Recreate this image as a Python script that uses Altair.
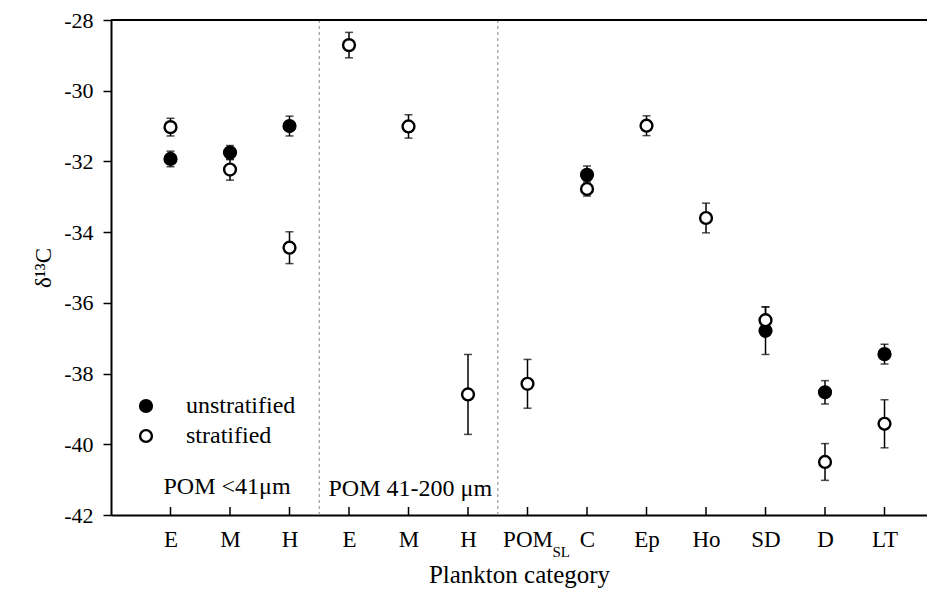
import json
import altair as alt
import pandas as pd

# ---- data ----
labels = ["E", "M", "H", "E", "M", "H", "POM", "C", "Ep", "Ho", "SD", "D", "LT"]

unstrat_pos = [0, 1, 2, 7, 10, 11, 12]
unstrat_val = [-31.93, -31.75, -31.00, -32.38, -36.79, -38.53, -37.45]
unstrat_err = [0.22, 0.20, 0.28, 0.25, 0.67, 0.33, 0.28]

strat_pos = [0, 1, 2, 3, 4, 5, 6, 7, 8, 9, 10, 11, 12]
strat_val = [-31.03, -32.23, -34.44, -28.71, -31.01, -38.59, -38.29,
             -32.78, -30.99, -33.60, -36.49, -40.50, -39.42]
strat_err = [0.25, 0.30, 0.45, 0.36, 0.33, 1.13, 0.69,
             0.20, 0.28, 0.42, 0.38, 0.52, 0.68]

y_ticks = [-42, -40, -38, -36, -34, -32, -30, -28]
dividers = [2.5, 5.5]
section_text = ["POM <41\u03bcm", "POM 41-200 \u03bcm"]
section_x = [0.95, 4.03]
section_y = [-41.42, -41.45]

# ---- tables ----
rows = []
for p, v, e in zip(unstrat_pos, unstrat_val, unstrat_err):
    rows.append({"pos": p, "val": v, "lo": v - e, "hi": v + e, "series": "unstratified"})
for p, v, e in zip(strat_pos, strat_val, strat_err):
    rows.append({"pos": p, "val": v, "lo": v - e, "hi": v + e, "series": "stratified"})
df = pd.DataFrame(rows)

div_df = pd.DataFrame({"pos": dividers})
tick_df = pd.DataFrame({"pos": list(range(len(labels)))})
sec_df = pd.DataFrame({"x": section_x, "y": section_y, "t": section_text})
sub_df = pd.DataFrame({"pos": [labels.index("POM")], "t": ["SL"]})
one_df = pd.DataFrame({"a": [0]})

W, H = 816, 495
FONT = "Liberation Serif"

xscale = alt.Scale(domain=[-1, 12.714], nice=False, zero=False)
yscale = alt.Scale(domain=[-42, -28], nice=False, zero=False)

label_expr = json.dumps(labels) + "[datum.value]"
xaxis = alt.Axis(values=list(range(len(labels))), labelExpr=label_expr, ticks=False,
                 grid=False, domainColor="black", domainWidth=2,
                 labelFont=FONT, labelFontSize=23, labelColor="black", labelPadding=13,
                 title="Plankton category", titleFont=FONT, titleFontSize=25,
                 titleFontWeight="normal", titleColor="black", titlePadding=11)
yaxis = alt.Axis(values=y_ticks, labelExpr="'-' + abs(datum.value)", grid=False,
                 domainColor="black", domainWidth=2, tickColor="black", tickWidth=1.5,
                 tickSize=8, labelFont=FONT, labelFontSize=22, labelColor="black",
                 labelPadding=10,
                 title="\u03b4\u00b9\u00b3C", titleFont=FONT, titleFontSize=23,
                 titleFontWeight="normal", titleColor="black", titlePadding=8)

X = lambda f: alt.X(f, type="quantitative", scale=xscale, axis=xaxis)
Y = lambda f: alt.Y(f, type="quantitative", scale=yscale, axis=yaxis)

div_layer = alt.Chart(div_df).mark_rule(color="#9a9a9a", strokeWidth=1.2, strokeDash=[3, 3]).encode(
    x=X("pos"), y=alt.value(0), y2=alt.value(H))

top_layer = alt.Chart(one_df).mark_rule(color="black", strokeWidth=2).encode(
    x=alt.value(0), x2=alt.value(W), y=alt.value(0))

xtick_layer = alt.Chart(tick_df).mark_rule(color="black", strokeWidth=1.5).encode(
    x=X("pos"), y=alt.value(H), y2=alt.value(H - 8))

err_layer = alt.Chart(df).mark_rule(color="black", strokeWidth=1.5).encode(
    x=X("pos"), y=Y("lo"), y2="hi")
cap_lo = alt.Chart(df).mark_tick(color="black", orient="horizontal", size=8, thickness=1.5).encode(
    x=X("pos"), y=Y("lo"))
cap_hi = alt.Chart(df).mark_tick(color="black", orient="horizontal", size=8, thickness=1.5).encode(
    x=X("pos"), y=Y("hi"))

pts = alt.Chart(df).mark_point(shape="circle", size=140, stroke="black", strokeWidth=2.4,
                               opacity=1, fillOpacity=1).encode(
    x=X("pos"), y=Y("val"),
    fill=alt.Fill("series:N",
                  scale=alt.Scale(domain=["unstratified", "stratified"], range=["black", "white"]),
                  legend=alt.Legend(orient="none", legendX=23, legendY=374, title=None,
                                    labelFont=FONT, labelFontSize=24, labelColor="black",
                                    symbolType="circle", symbolSize=140,
                                    symbolStrokeColor="black", symbolStrokeWidth=2.4,
                                    labelOffset=28, rowPadding=6, padding=0)))

sec_layer = alt.Chart(sec_df).mark_text(font=FONT, fontSize=24, color="black",
                                         baseline="alphabetic", align="center").encode(
    x=X("x"), y=Y("y"), text="t:N")

sub_layer = alt.Chart(sub_df).mark_text(font=FONT, fontSize=15, color="black",
                                         baseline="alphabetic", align="left", dx=25).encode(
    x=X("pos"), y=alt.value(H + 42), text="t:N")

chart = alt.layer(div_layer, top_layer, xtick_layer, err_layer, cap_lo, cap_hi, pts,
                  sec_layer, sub_layer).properties(
    width=W, height=H,
    autosize=alt.AutoSizeParams(type="none"),
    padding={"left": 103, "top": 12, "right": 0, "bottom": 80},
).configure_view(stroke=None)

chart.save("out.html", embed_options={"renderer": "svg", "actions": False})
